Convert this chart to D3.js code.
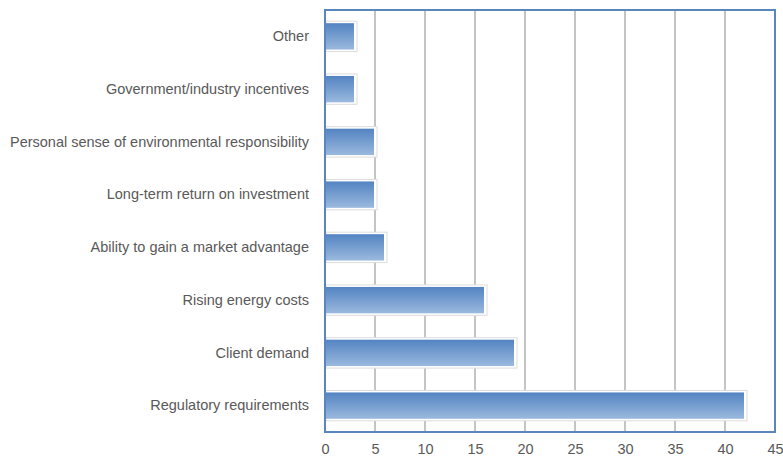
<!DOCTYPE html>
<html>
<head>
<meta charset="utf-8">
<script src="https://cdn.jsdelivr.net/npm/d3@7"></script>
<style>
  body { margin: 0; background: #fff; }
  text { font-family: "Liberation Sans", Arial, sans-serif; fill: #595959; }
</style>
</head>
<body>
<div id="chart"></div>
<script>
// chart data
var categories = [
  "Other",
  "Government/industry incentives",
  "Personal sense of environmental responsibility",
  "Long-term return on investment",
  "Ability to gain a market advantage",
  "Rising energy costs",
  "Client demand",
  "Regulatory requirements"
];
var values = [3, 3, 5, 5, 6, 16, 19, 42];
var xTicks = [0, 5, 10, 15, 20, 25, 30, 35, 40, 45];

var margin = { top: 10, right: 8, bottom: 32, left: 325 };

var svg = d3
  .select("#chart")
  .append("svg")
  .attr("width", 783)
  .attr("height", 464);

// bar gradient
var grad = svg
  .append("defs")
  .append("linearGradient")
  .attr("id", "barGrad")
  .attr("x1", 0).attr("y1", 0).attr("x2", 0).attr("y2", 1);
grad.append("stop").attr("offset", "0%").attr("stop-color", "#5384c2");
grad.append("stop").attr("offset", "100%").attr("stop-color", "#9ab9de");

var g = svg
  .append("g")
  .attr("transform", "translate(" + margin.left + "," + margin.top + ")");

var x = d3.scaleLinear().domain([0, 45]).range([0, 450]);
var y = d3.scaleBand().domain(categories).range([0, 422]).paddingInner(0.5).paddingOuter(0.25);

// gridlines
g.selectAll(".grid")
  .data(xTicks.slice(1, -1))
  .join("line")
  .attr("class", "grid")
  .attr("x1", (d) => x(d))
  .attr("x2", (d) => x(d))
  .attr("y1", 0)
  .attr("y2", 422)
  .attr("stroke", "#c4c4c4")
  .attr("stroke-width", 2);

// bars with light outline
var data = categories.map((c, i) => ({ cat: c, val: values[i] }));
g.selectAll(".bar-outline")
  .data(data)
  .join("rect")
  .attr("class", "bar-outline")
  .attr("x", 1)
  .attr("y", (d) => y(d.cat) - 2)
  .attr("width", (d) => x(d.val) + 1)
  .attr("height", y.bandwidth() + 4)
  .attr("fill", "#fff")
  .attr("stroke", "#dcdcdc")
  .attr("stroke-width", 1);

g.selectAll(".bar")
  .data(data)
  .join("rect")
  .attr("class", "bar")
  .attr("x", 1)
  .attr("y", (d) => y(d.cat))
  .attr("width", (d) => x(d.val) - 2)
  .attr("height", y.bandwidth())
  .attr("fill", "url(#barGrad)");

// plot frame
g.append("rect")
  .attr("x", 0)
  .attr("y", 0)
  .attr("width", 450)
  .attr("height", 422)
  .attr("fill", "none")
  .attr("stroke", "#5a86bf")
  .attr("stroke-width", 2);

// axes
var xAxis = d3.axisBottom(x).tickValues(xTicks).tickSize(0).tickPadding(12);
g.append("g")
  .attr("transform", "translate(0,422)")
  .call(xAxis)
  .call((a) => a.select(".domain").remove())
  .selectAll("text")
  .style("font-size", "14.5px")
  .style("font-family", "Liberation Sans, Arial, sans-serif")
  .attr("fill", "#595959");

var yAxis = d3.axisLeft(y).tickSize(0).tickPadding(16);
g.append("g")
  .call(yAxis)
  .call((a) => a.select(".domain").remove())
  .selectAll("text")
  .style("font-size", "14.5px")
  .style("font-family", "Liberation Sans, Arial, sans-serif")
  .attr("fill", "#595959");
</script>
</body>
</html>
